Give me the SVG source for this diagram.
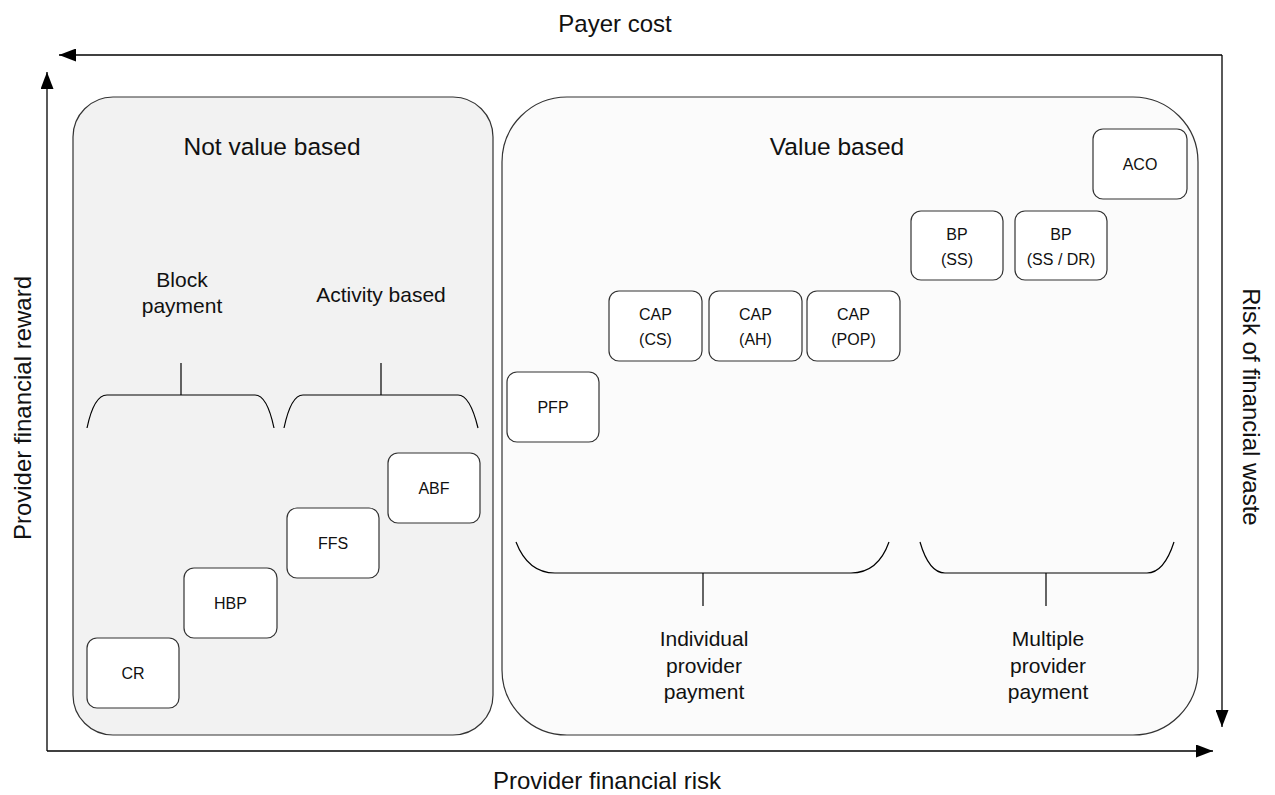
<svg xmlns="http://www.w3.org/2000/svg" width="1275" height="795" viewBox="0 0 1275 795">
  <defs>
    <marker id="arrow" markerUnits="userSpaceOnUse" markerWidth="17" markerHeight="13" refX="17" refY="6.5" orient="auto">
      <path d="M0,0 L17,6.5 L0,13 z" fill="#000"/>
    </marker>
    <style>
      text { font-family: "Liberation Sans", Arial, sans-serif; fill: #111; text-anchor: middle; }
      .axis-label { font-size: 24px; }
      .panel-title { font-size: 24.5px; }
      .group-label { font-size: 21px; }
      .node rect { fill: #fff; stroke: #333; stroke-width: 1.2; }
      .node text { font-size: 16px; }
      .axis { fill: none; stroke: #000; stroke-width: 1.3; }
      .brace { fill: none; stroke: #000; stroke-width: 1.2; }
    </style>
  </defs>

  <!-- background panels -->
  <g id="panel-not-value">
    <rect x="73" y="97" width="420" height="638" rx="40" ry="40" fill="#f2f2f2" stroke="#333" stroke-width="1.2"/>
    <text class="panel-title" x="272" y="155">Not value based</text>
  </g>
  <g id="panel-value">
    <rect x="502" y="97" width="696" height="638" rx="65" ry="65" fill="#fbfbfb" stroke="#333" stroke-width="1.2"/>
    <text class="panel-title" x="837" y="155">Value based</text>
  </g>

  <!-- axes -->
  <g id="connectors">
    <path class="axis" d="M47,751 V72" marker-end="url(#arrow)"/>
    <path class="axis" d="M47,751 H1213" marker-end="url(#arrow)"/>
    <path class="axis" d="M1222,55 H59" marker-end="url(#arrow)"/>
    <path class="axis" d="M1222,55 V727" marker-end="url(#arrow)"/>

    <!-- grouping braces -->
    <path class="brace" d="M87,428 Q94,395 107,395 H255 Q267,395 274,428"/>
    <path class="brace" d="M181,363 V395"/>
    <path class="brace" d="M284,428 Q291,395 303,395 H458 Q470,395 478,428"/>
    <path class="brace" d="M381,363 V395"/>
    <path class="brace" d="M516,542 Q528,573 555,573 H851 Q878,573 889,542"/>
    <path class="brace" d="M703,573 V606"/>
    <path class="brace" d="M920,542 Q929,573 945,573 H1147 Q1164,573 1174,542"/>
    <path class="brace" d="M1046,573 V606"/>
  </g>

  <!-- axis labels -->
  <g id="axis-labels">
    <text class="axis-label" x="615" y="32">Payer cost</text>
    <text class="axis-label" x="607" y="789">Provider financial risk</text>
    <text class="axis-label" transform="translate(31,408) rotate(-90)">Provider financial reward</text>
    <text class="axis-label" transform="translate(1243,407) rotate(90)">Risk of financial waste</text>
  </g>

  <!-- group labels -->
  <g id="group-labels">
    <text class="group-label" x="182" y="287">Block</text>
    <text class="group-label" x="182" y="313">payment</text>
    <text class="group-label" x="381" y="302">Activity based</text>
    <text class="group-label" x="704" y="646">Individual</text>
    <text class="group-label" x="704" y="673">provider</text>
    <text class="group-label" x="704" y="699">payment</text>
    <text class="group-label" x="1048" y="646">Multiple</text>
    <text class="group-label" x="1048" y="673">provider</text>
    <text class="group-label" x="1048" y="699">payment</text>
  </g>

  <!-- payment model nodes -->
  <g id="node-cr" class="node">
    <rect x="87" y="638" width="92" height="70" rx="10"/>
    <text x="133" y="679">CR</text>
  </g>
  <g id="node-hbp" class="node">
    <rect x="184" y="568" width="93" height="70" rx="10"/>
    <text x="230.5" y="609">HBP</text>
  </g>
  <g id="node-ffs" class="node">
    <rect x="287" y="508" width="92" height="70" rx="10"/>
    <text x="333" y="549">FFS</text>
  </g>
  <g id="node-abf" class="node">
    <rect x="388" y="453" width="92" height="70" rx="10"/>
    <text x="434" y="494">ABF</text>
  </g>
  <g id="node-pfp" class="node">
    <rect x="507" y="372" width="92" height="70" rx="10"/>
    <text x="553" y="413">PFP</text>
  </g>
  <g id="node-cap-cs" class="node">
    <rect x="609" y="291" width="93" height="70" rx="10"/>
    <text x="655.5" y="320">CAP</text>
    <text x="655.5" y="345">(CS)</text>
  </g>
  <g id="node-cap-ah" class="node">
    <rect x="709" y="291" width="93" height="70" rx="10"/>
    <text x="755.5" y="320">CAP</text>
    <text x="755.5" y="345">(AH)</text>
  </g>
  <g id="node-cap-pop" class="node">
    <rect x="807" y="291" width="93" height="70" rx="10"/>
    <text x="853.5" y="320">CAP</text>
    <text x="853.5" y="345">(POP)</text>
  </g>
  <g id="node-bp-ss" class="node">
    <rect x="911" y="211" width="92" height="69" rx="10"/>
    <text x="957" y="240">BP</text>
    <text x="957" y="265">(SS)</text>
  </g>
  <g id="node-bp-ss-dr" class="node">
    <rect x="1015" y="211" width="92" height="69" rx="10"/>
    <text x="1061" y="240">BP</text>
    <text x="1061" y="265">(SS / DR)</text>
  </g>
  <g id="node-aco" class="node">
    <rect x="1093" y="129" width="94" height="70" rx="10"/>
    <text x="1140" y="170">ACO</text>
  </g>
</svg>
